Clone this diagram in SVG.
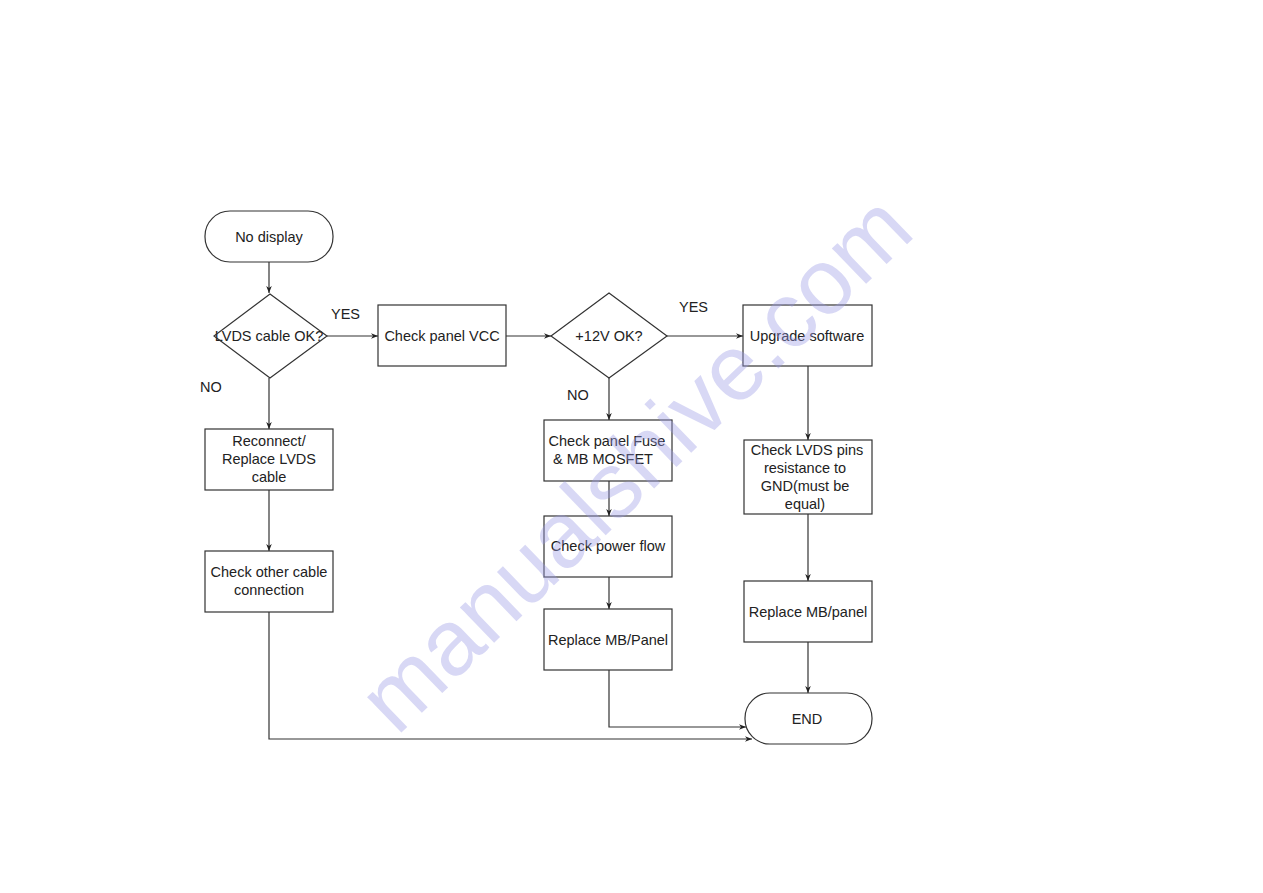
<svg xmlns="http://www.w3.org/2000/svg" width="1263" height="893" viewBox="0 0 1263 893">
<defs>
<marker id="arr" viewBox="0 0 10 10" refX="10" refY="5" markerWidth="7" markerHeight="7" orient="auto" markerUnits="userSpaceOnUse">
<path d="M0,1 L10,5 L0,9 L3,5 Z" fill="#222"/>
</marker>
</defs>
<style>
.box{fill:#fff;stroke:#333;stroke-width:1.2}
.t{font-family:"Liberation Sans",Arial,sans-serif;font-size:14.5px;fill:#222;text-anchor:middle}
.lbl{font-family:"Liberation Sans",Arial,sans-serif;font-size:14.5px;fill:#222}
.c{fill:none;stroke:#333;stroke-width:1.2}
.wm{font-family:"Liberation Sans",Arial,sans-serif;font-size:93px;fill:#9a9ae6;opacity:0.38;text-anchor:middle}
</style>
<rect width="1263" height="893" fill="#fff"/>
<g id="connectors">
<path class="c" d="M269,262 V293" marker-end="url(#arr)"/>
<path class="c" d="M327,336 H378" marker-end="url(#arr)"/>
<path class="c" d="M506,336 H551" marker-end="url(#arr)"/>
<path class="c" d="M667,336 H743" marker-end="url(#arr)"/>
<path class="c" d="M269,378 V429" marker-end="url(#arr)"/>
<path class="c" d="M269,490 V551" marker-end="url(#arr)"/>
<path class="c" d="M269,612 V739 H752" marker-end="url(#arr)"/>
<path class="c" d="M609,378 V420" marker-end="url(#arr)"/>
<path class="c" d="M609,481 V516" marker-end="url(#arr)"/>
<path class="c" d="M609,577 V609" marker-end="url(#arr)"/>
<path class="c" d="M609,670 V727 H746" marker-end="url(#arr)"/>
<path class="c" d="M808,366 V440" marker-end="url(#arr)"/>
<path class="c" d="M808,514 V581" marker-end="url(#arr)"/>
<path class="c" d="M808,642 V693" marker-end="url(#arr)"/>
</g>
<g id="labels">
<text class="lbl" x="331" y="319">YES</text>
<text class="lbl" x="200" y="392">NO</text>
<text class="lbl" x="679" y="312">YES</text>
<text class="lbl" x="567" y="400">NO</text>
</g>
<g id="n-start"><rect class="box" x="205" y="211" width="128" height="51" rx="25" ry="25"/><text class="t" x="269" y="242">No display</text></g>
<g id="n-lvds-ok"><text class="t" x="269" y="341">LVDS cable OK?</text><polygon points="270,294 327,336 270,378 214,336" fill="none" stroke="#333" stroke-width="1.2"/></g>
<g id="n-vcc"><rect class="box" x="378" y="305" width="128" height="61"/><text class="t" x="442" y="341">Check panel VCC</text></g>
<g id="n-12v"><polygon points="609,293 667,336 609,378 551,336" class="box"/><text class="t" x="609" y="341">+12V OK?</text></g>
<g id="n-upgrade"><rect class="box" x="743" y="305" width="129" height="61"/><text class="t" x="807" y="341">Upgrade software</text></g>
<g id="n-reconnect"><rect class="box" x="205" y="429" width="128" height="61"/><text class="t" x="269" y="446">Reconnect/</text><text class="t" x="269" y="464">Replace LVDS</text><text class="t" x="269" y="482">cable</text></g>
<g id="n-other"><rect class="box" x="205" y="551" width="128" height="61"/><text class="t" x="269" y="577">Check other cable</text><text class="t" x="269" y="595">connection</text></g>
<g id="n-fuse"><rect class="box" x="544" y="420" width="128" height="61"/><text class="t" x="607" y="446">Check panel Fuse</text><text class="t" x="603" y="464">&amp; MB MOSFET</text></g>
<g id="n-power"><rect class="box" x="544" y="516" width="128" height="61"/><text class="t" x="608" y="551">Check power flow</text></g>
<g id="n-replace1"><rect class="box" x="544" y="609" width="128" height="61"/><text class="t" x="608" y="645">Replace MB/Panel</text></g>
<g id="n-pins"><rect class="box" x="744" y="440" width="128" height="74"/><text class="t" x="807" y="455">Check LVDS pins</text><text class="t" x="805" y="473">resistance to</text><text class="t" x="805" y="491">GND(must be</text><text class="t" x="805" y="509">equal)</text></g>
<g id="n-replace2"><rect class="box" x="744" y="581" width="128" height="61"/><text class="t" x="808" y="617">Replace MB/panel</text></g>
<g id="n-end"><rect class="box" x="745" y="693" width="127" height="51" rx="25" ry="25"/><text class="t" x="807" y="724">END</text></g>
<g id="watermark"><text class="wm" transform="translate(634,462) rotate(-44)" x="0" y="33">manualshive.com</text></g>
</svg>
